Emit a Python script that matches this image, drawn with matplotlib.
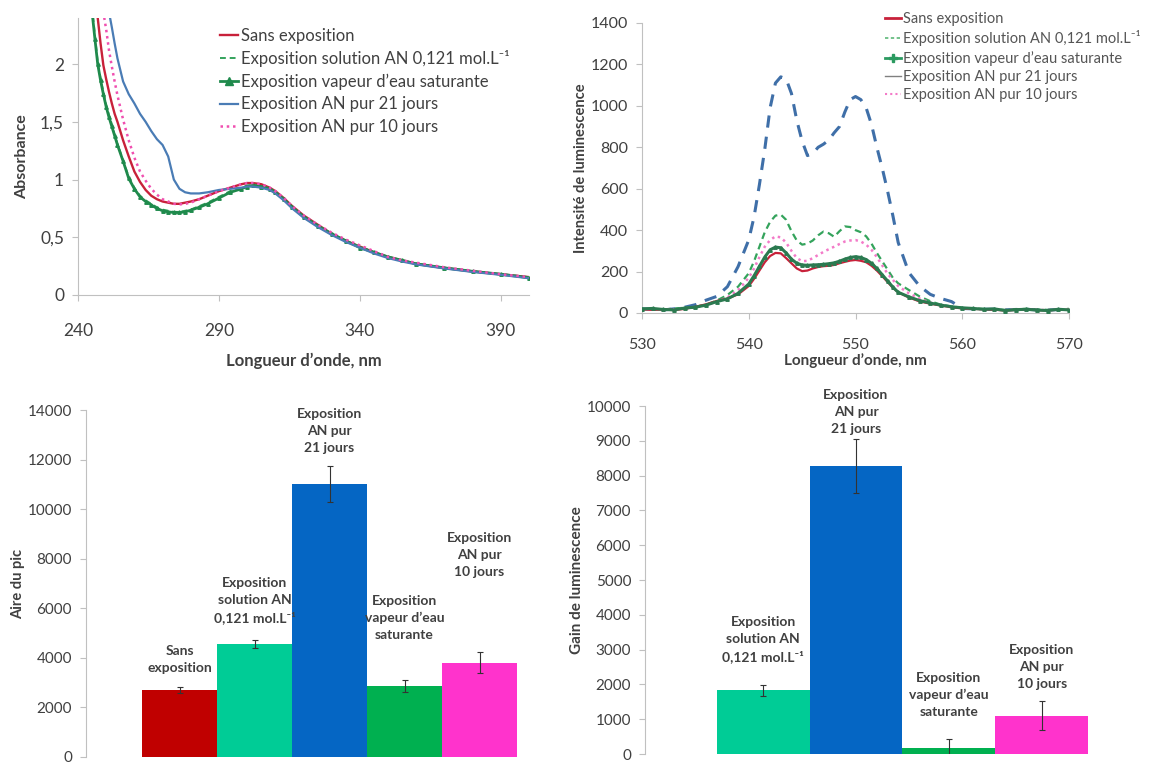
import matplotlib
matplotlib.use("Agg")
import matplotlib.pyplot as plt
from matplotlib.lines import Line2D
import numpy as np

plt.rcParams['font.family'] = ['Lato', 'DejaVu Sans']

# ---------------- data ----------------
series_names = [
    "Sans exposition",
    "Exposition solution AN 0,121 mol.L\u207b\u00b9",
    "Exposition vapeur d\u2019eau saturante",
    "Exposition AN pur 21 jours",
    "Exposition AN pur 10 jours",
]

# UV-visible absorbance spectra
abs_wavelength = [245, 246, 247, 248, 249, 250, 251, 252, 253, 254, 256, 258, 260, 262, 264,
                  266, 268, 270, 272, 274, 276, 278, 280, 283, 286, 290, 294, 298, 300, 302,
                  305, 308, 310, 313, 316, 320, 325, 330, 335, 340, 345, 350, 355, 360, 370,
                  380, 390, 400]
abs_sans = [2.90, 2.65, 2.40, 2.18, 1.99, 1.87, 1.76, 1.66, 1.57, 1.50, 1.34, 1.20, 1.07, 0.98, 0.91,
            0.86, 0.83, 0.81, 0.80, 0.79, 0.79, 0.80, 0.81, 0.83, 0.86, 0.90, 0.93, 0.96, 0.97, 0.97,
            0.96, 0.93, 0.90, 0.84, 0.77, 0.69, 0.61, 0.53, 0.47, 0.42, 0.37, 0.33, 0.30, 0.27, 0.235,
            0.205, 0.18, 0.155]
abs_solution = [2.50, 2.25, 2.02, 1.88, 1.76, 1.65, 1.56, 1.48, 1.39, 1.31, 1.17, 1.02, 0.93, 0.86, 0.82,
                0.79, 0.76, 0.74, 0.73, 0.72, 0.72, 0.73, 0.74, 0.77, 0.80, 0.85, 0.90, 0.93, 0.95, 0.95,
                0.95, 0.92, 0.89, 0.83, 0.76, 0.68, 0.60, 0.53, 0.47, 0.42, 0.37, 0.33, 0.30, 0.27, 0.235,
                0.205, 0.18, 0.155]
abs_vapeur = [2.45, 2.22, 2.00, 1.86, 1.74, 1.63, 1.54, 1.46, 1.38, 1.30, 1.16, 1.01, 0.92, 0.85, 0.81,
              0.78, 0.75, 0.73, 0.72, 0.715, 0.715, 0.72, 0.735, 0.76, 0.79, 0.84, 0.89, 0.92, 0.94, 0.95,
              0.94, 0.92, 0.89, 0.83, 0.76, 0.68, 0.60, 0.53, 0.47, 0.41, 0.37, 0.33, 0.30, 0.27, 0.235,
              0.205, 0.18, 0.15]
abs_21j = [3.60, 3.40, 3.20, 3.00, 2.80, 2.60, 2.45, 2.32, 2.18, 2.05, 1.85, 1.74, 1.66, 1.57, 1.50,
           1.42, 1.35, 1.30, 1.20, 1.00, 0.92, 0.89, 0.88, 0.88, 0.89, 0.91, 0.92, 0.93, 0.94, 0.94,
           0.93, 0.91, 0.88, 0.82, 0.75, 0.67, 0.59, 0.52, 0.46, 0.41, 0.36, 0.32, 0.29, 0.265, 0.23,
           0.20, 0.175, 0.145]
abs_10j = [3.20, 3.00, 2.80, 2.60, 2.45, 2.30, 2.12, 1.98, 1.85, 1.73, 1.52, 1.34, 1.19, 1.07, 0.99,
           0.92, 0.87, 0.83, 0.81, 0.79, 0.785, 0.79, 0.80, 0.83, 0.86, 0.90, 0.93, 0.96, 0.97, 0.97,
           0.96, 0.93, 0.90, 0.84, 0.77, 0.69, 0.61, 0.54, 0.48, 0.43, 0.38, 0.33, 0.30, 0.28, 0.24,
           0.21, 0.18, 0.155]

# Luminescence emission spectra
lum_wavelength = [530, 531, 532, 533, 534, 535, 536, 537, 538, 539, 540,
                  540.5, 541, 541.5, 542, 542.5, 543, 543.5, 544, 544.5, 545, 545.5, 546, 546.5,
                  547, 547.5, 548, 548.5, 549, 549.5, 550, 550.5, 551, 551.5, 552, 552.5, 553,
                  553.5, 554,
                  555, 556, 557, 558, 559, 560, 561, 562, 563, 564, 565, 566, 567, 568, 569, 570]
lum_sans = [18, 15, 17, 14, 20, 30, 42, 58, 70, 90, 130,
            165, 205, 245, 275, 290, 288, 265, 240, 215, 202, 205, 215, 222,
            226, 228, 232, 240, 247, 253, 256, 252, 245, 228, 205, 178, 150,
            122, 100,
            75, 56, 45, 36, 28, 22, 20, 18, 16, 12, 15, 17, 14, 13, 16, 15]
lum_solution = [18, 20, 16, 22, 25, 30, 40, 60, 87, 127, 192,
                250, 320, 390, 440, 470, 475, 450, 395, 350, 330, 335, 350, 375,
                393, 385, 368, 395, 418, 415, 400, 390, 370, 335, 290, 250, 210,
                170, 143,
                111, 80, 57, 40, 32, 25, 22, 20, 18, 15, 18, 20, 17, 15, 18, 20]
lum_vapeur = [20, 22, 17, 15, 24, 28, 38, 55, 68, 95, 140,
              180, 225, 270, 305, 318, 315, 290, 260, 240, 232, 230, 232, 233,
              235, 238, 242, 250, 260, 268, 272, 268, 258, 240, 215, 185, 155,
              125, 100,
              78, 60, 48, 38, 30, 25, 22, 18, 20, 12, 16, 18, 14, 12, 18, 15]
lum_21j = [20, 18, 15, 20, 28, 40, 62, 80, 127, 224, 353,
           465, 620, 790, 990, 1110, 1140, 1130, 1060, 930, 830, 760, 770, 800,
           815, 835, 870, 900, 970, 1030, 1045, 1030, 990, 910, 800, 700, 590,
           470, 340,
           195, 130, 90, 70, 55, 22, 20, 18, 18, 15, 17, 18, 15, 14, 17, 16]
lum_10j = [15, 18, 14, 18, 22, 28, 38, 55, 75, 110, 170,
           215, 270, 320, 352, 370, 365, 340, 300, 265, 250, 252, 265, 280,
           295, 308, 320, 333, 345, 350, 352, 345, 330, 305, 270, 230, 190,
           160, 130,
           95, 70, 50, 36, 28, 22, 20, 18, 17, 14, 16, 18, 15, 14, 16, 17]

# Peak area (bottom left)
area_labels = ["Sans\nexposition",
               "Exposition\nsolution AN\n0,121 mol.L\u207b\u00b9",
               "Exposition\nAN pur\n21 jours",
               "Exposition\nvapeur d\u2019eau\nsaturante",
               "Exposition\nAN pur\n10 jours"]
area_values = [2700, 4550, 11000, 2850, 3800]
area_errors = [120, 160, 730, 240, 430]

# Luminescence gain (bottom right)
gain_labels = ["Exposition\nsolution AN\n0,121 mol.L\u207b\u00b9",
               "Exposition\nAN pur\n21 jours",
               "Exposition\nvapeur d\u2019eau\nsaturante",
               "Exposition\nAN pur\n10 jours"]
gain_values = [1830, 8270, 160, 1100]
gain_errors = [150, 780, 260, 420]

# ---------------- styles ----------------
C_RED = '#c8213a'
C_GREEN_D = '#34a35c'
C_GREEN_V = '#1f8a4c'
C_BLUE = '#4a7cb5'
C_PINK = '#f04fb0'
TXT = '#404040'
SPINE = '#c0c0c0'

bar_red = '#c00000'
bar_teal = '#00cc96'
bar_blue = '#0566c4'
bar_green = '#00b050'
bar_pink = '#ff33cc'

W, H = 1168, 765
fig = plt.figure(figsize=(W / 100, H / 100), dpi=100)


def px_axes(left, top, right, bottom):
    return fig.add_axes([left / W, 1 - bottom / H, (right - left) / W, (bottom - top) / H])


def style_axes(ax, bottom=True):
    for s in ('top', 'right'):
        ax.spines[s].set_visible(False)
    ax.spines['left'].set_color(SPINE)
    ax.spines['bottom'].set_color(SPINE)
    ax.spines['bottom'].set_visible(bottom)
    ax.tick_params(colors=SPINE, labelcolor=TXT, length=4, width=0.8)


# ---------- top left: absorbance ----------
ax1 = px_axes(78, 18, 529, 295)
style_axes(ax1)
ax1.plot(abs_wavelength, abs_sans, color=C_RED, lw=1.7, label=series_names[0])
ax1.plot(abs_wavelength, abs_solution, color=C_GREEN_D, lw=1.4, ls=(0, (3, 2)), label=series_names[1])
ax1.plot(abs_wavelength, abs_vapeur, color=C_GREEN_V, lw=2.0, marker='^', ms=2.5,
         label=series_names[2])
ax1.plot(abs_wavelength, abs_21j, color=C_BLUE, lw=1.6, label=series_names[3])
ax1.plot(abs_wavelength, abs_10j, color=C_PINK, lw=1.8, ls=(0, (1, 1.5)), label=series_names[4])
ax1.set_xlim(240, 400)
ax1.set_ylim(0, 2.4)
ax1.set_xticks([240, 290, 340, 390])
ax1.set_yticks([0, 0.5, 1, 1.5, 2])
ax1.set_yticklabels(['0', '0,5', '1', '1,5', '2'])
ax1.tick_params(axis='x', pad=16, labelsize=12.5)
ax1.tick_params(axis='y', pad=6, labelsize=12.5)
ax1.set_xlabel("Longueur d\u2019onde, nm", fontsize=12, fontweight='bold', color=TXT, labelpad=10)
ax1.set_ylabel("Absorbance", fontsize=11.5, fontweight='bold', color=TXT, labelpad=8)
leg1 = ax1.legend(loc='upper left', bbox_to_anchor=((220 - 78) / 451, 1 - (28 - 18) / 277),
                  frameon=False, fontsize=12, labelcolor=TXT, handlelength=1.1,
                  handletextpad=0.15, borderaxespad=0, borderpad=0, labelspacing=0.38)
for h in leg1.legend_handles:
    h.set_markersize(6)

# ---------- top right: luminescence ----------
ax2 = px_axes(642, 23, 1069, 313)
style_axes(ax2)
ax2.plot(lum_wavelength, lum_21j, color='#3f6fa8', lw=2.2, ls=(0, (4, 3)), zorder=2)
ax2.plot(lum_wavelength, lum_solution, color=C_GREEN_D, lw=1.6, ls=(0, (3, 2)), zorder=3)
ax2.plot(lum_wavelength, lum_10j, color='#f37ac8', lw=1.8, ls=(0, (1, 1.5)), zorder=3)
ax2.plot(lum_wavelength, lum_sans, color=C_RED, lw=1.6, zorder=4)
ax2.plot(lum_wavelength, lum_vapeur, color='#2b7a50', lw=2.2, marker='^', ms=2.5, zorder=5)
ax2.set_xlim(530, 570)
ax2.set_ylim(0, 1400)
ax2.set_xticks([530, 540, 550, 560, 570])
ax2.set_yticks(range(0, 1401, 200))
ax2.tick_params(axis='x', pad=14, labelsize=11.5)
ax2.tick_params(axis='y', pad=6, labelsize=11.5)
ax2.set_xlabel("Longueur d\u2019onde, nm", fontsize=11, fontweight='bold', color=TXT, labelpad=1)
ax2.set_ylabel("Intensit\u00e9 de luminescence", fontsize=10.5, fontweight='bold', color=TXT,
               labelpad=2)
lum_handles = [
    Line2D([], [], color=C_RED, lw=2),
    Line2D([], [], color='#5cb878', lw=1.2, ls=(0, (2, 1.5))),
    Line2D([], [], color='#2b9a60', lw=2, marker='P', ms=6),
    Line2D([], [], color='#808080', lw=1),
    Line2D([], [], color='#f37ac8', lw=1.5, ls=(0, (1, 1.5))),
]
ax2.legend(lum_handles, series_names, loc='upper left',
           bbox_to_anchor=((885 - 642) / 427, 1 - (12 - 23) / 290),
           frameon=False, fontsize=10.5, labelcolor='#555555', handlelength=1.1,
           handletextpad=0.15, borderaxespad=0, borderpad=0, labelspacing=0.3)

# ---------- bottom left: peak area ----------
ax3 = px_axes(86, 410, 571, 757)
style_axes(ax3, bottom=False)
x3 = np.arange(len(area_values))
ax3.bar(x3, area_values, width=1.0, color=[bar_red, bar_teal, bar_blue, bar_green, bar_pink],
        yerr=area_errors, error_kw=dict(ecolor='#333333', elinewidth=0.8, capsize=2, capthick=0.8))
ax3.set_xlim(-1.25, 5.22)
ax3.set_ylim(0, 14000)
ax3.set_yticks(range(0, 14001, 2000))
ax3.set_xticks([])
ax3.tick_params(axis='y', pad=6, labelsize=11)
ax3.set_ylabel("Aire du pic", fontsize=10.5, fontweight='bold', color=TXT, labelpad=2)
area_label_y = [3340, 5350, 12230, 4670, 7240]
for xi, lab, ly in zip(x3, area_labels, area_label_y):
    ax3.text(xi, ly, lab, ha='center', va='bottom', fontsize=10, fontweight='bold',
             color=TXT, linespacing=1.5)

# ---------- bottom right: luminescence gain ----------
ax4 = px_axes(645, 406, 1159, 754)
style_axes(ax4, bottom=False)
x4 = np.arange(len(gain_values))
ax4.bar(x4, gain_values, width=1.0, color=[bar_teal, bar_blue, bar_green, bar_pink],
        yerr=gain_errors, error_kw=dict(ecolor='#333333', elinewidth=0.8, capsize=2, capthick=0.8))
ax4.set_xlim(-1.27, 4.26)
ax4.set_ylim(0, 10000)
ax4.set_yticks(range(0, 10001, 1000))
ax4.set_xticks([])
ax4.tick_params(axis='y', pad=6, labelsize=11)
ax4.set_ylabel("Gain de luminescence", fontsize=11, fontweight='bold', color=TXT, labelpad=2)
gain_label_y = [2600, 9170, 1030, 1830]
for xi, lab, ly in zip(x4, gain_labels, gain_label_y):
    ax4.text(xi, ly, lab, ha='center', va='bottom', fontsize=10, fontweight='bold',
             color=TXT, linespacing=1.5)

fig.savefig("out.png", dpi=100)
